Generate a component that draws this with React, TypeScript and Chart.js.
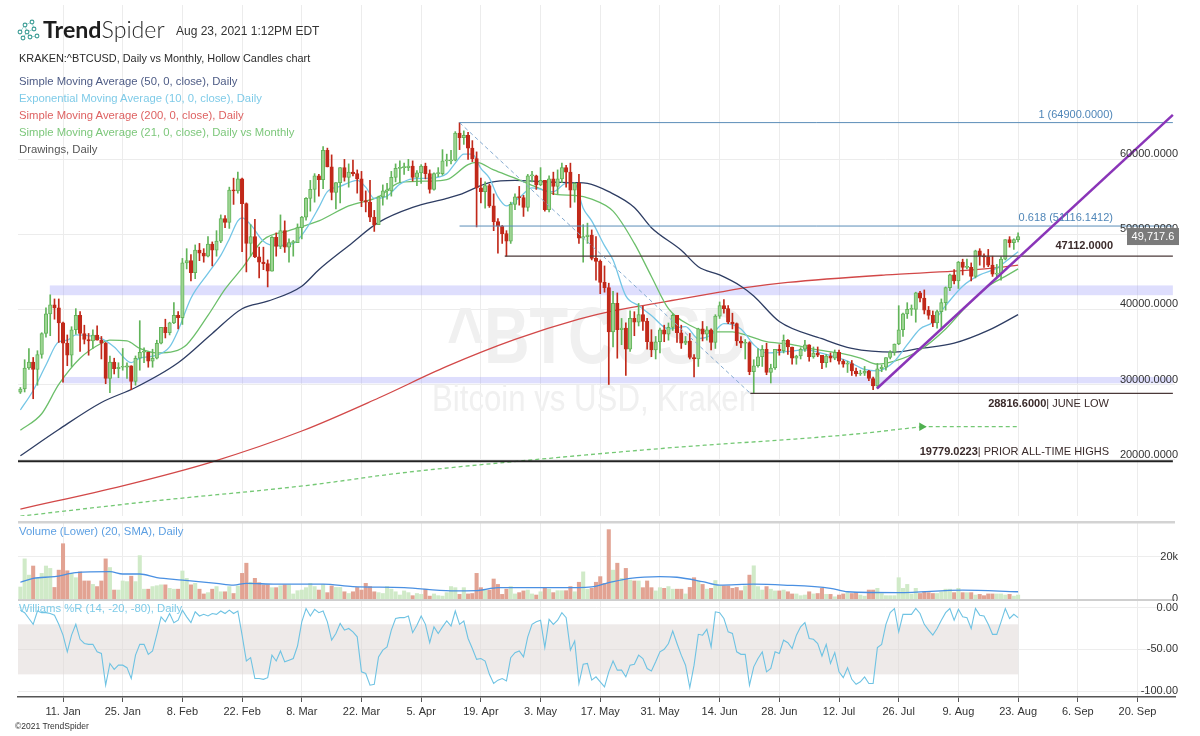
import React, { useEffect, useRef } from "react";
import { Chart, registerables } from "chart.js";

Chart.register(...registerables);

const FONT = '"Liberation Sans", Arial, Helvetica, sans-serif';

// x values are day numbers counted from 1 Jan 2021 (= day 0)
const X_MIN = -0.56;
const X_MAX = 270.8;
const tickDays = [10, 24, 38, 52, 66, 80, 94, 108, 122, 136, 150, 164, 178, 192, 206, 220, 234, 248, 262];
const tickLabels = ["11. Jan", "25. Jan", "8. Feb", "22. Feb", "8. Mar", "22. Mar", "5. Apr", "19. Apr", "3. May", "17. May", "31. May", "14. Jun", "28. Jun", "12. Jul", "26. Jul", "9. Aug", "23. Aug", "6. Sep", "20. Sep"];
const priceTicks = [20000, 30000, 40000, 50000, 60000];
const volumeTicks = [0, 20];
const volumeTickLabels = ["0", "20k"];
const wrTicks = [0, -50, -100];
const wrTickLabels = ["0.00", "-50.00", "-100.00"];

const firstOpen = 28990;
const closes = [
  29400, 32200, 33000, 32000, 34000, 36800, 39400, 40600, 40200, 38200,
  35500, 33900, 37300, 39200, 36800, 36000, 35800, 36600, 35900, 35500,
  30800, 33000, 32100, 32300, 32300, 32500, 30400, 33500, 34300, 34300,
  33100, 33500, 35500, 37600, 36900, 38200, 39200, 38900, 46200, 46500,
  44900, 47900, 47500, 47100, 48700, 47900, 49100, 52100, 51600, 55900,
  55800, 57400, 54100, 48800, 49700, 47000, 46300, 46100, 45100, 49600,
  48400, 50500, 48300, 48900, 48900, 50900, 52300, 54800, 56000, 57800,
  57300, 61200, 59000, 55600, 56900, 58900, 57600, 58300, 58100, 57400,
  54500, 54300, 52300, 51300, 55000, 55800, 55800, 57600, 58800, 58900,
  58900, 59100, 57600, 58200, 59100, 58100, 56000, 58100, 58100, 59800,
  59800, 59900, 63500, 62900, 63200, 61500, 60100, 56200, 55700, 56500,
  53800, 51700, 51100, 50100, 49100, 54000, 55000, 54900, 53600, 57800,
  57800, 56600, 57200, 53300, 57400, 56400, 57400, 58900, 58300, 55900,
  56800, 49500, 49700, 49900, 46800, 46400, 43600, 42900, 37000, 40800,
  37300, 37500, 34700, 38800, 38300, 39300, 38400, 35700, 34600, 35700,
  37300, 36700, 37600, 39200, 36900, 35500, 35800, 33600, 33400, 37400,
  36700, 37300, 35600, 39100, 40500, 40100, 38300, 38100, 35800, 35500,
  35600, 31700, 32500, 33700, 34700, 31600, 32200, 34700, 34500, 35900,
  35000, 33500, 33800, 34700, 35300, 33700, 34200, 33900, 32900, 33800,
  33500, 34300, 33100, 32700, 32800, 31800, 31400, 31500, 31800, 30800,
  29800, 32100, 32300, 33600, 34300, 35400, 37300, 39400, 40000, 40000,
  42200, 41500, 39900, 39200, 38200, 39700, 40900, 42900, 44600, 43800,
  46300, 45600, 45600, 44400, 47800, 47100, 47000, 45900, 44700, 44800,
  46700, 49300, 48900, 49300, 49717.6,
];
const highs = [
  29600, 33300, 34800, 33600, 34500, 36900, 40200, 41950, 41400, 41400,
  38300, 36600, 37700, 40100, 39700, 37900, 36800, 37300, 37800, 36400,
  35600, 33800, 33500, 32900, 34800, 32900, 32500, 33800, 38500, 34900,
  34300, 34700, 35900, 37600, 38700, 38300, 40900, 39700, 46800, 48100,
  47300, 48600, 48800, 48100, 49700, 49000, 50500, 52600, 52500, 56300,
  57500, 58300, 57500, 54200, 51300, 52000, 48300, 48300, 46600, 49700,
  50200, 52600, 51800, 49400, 49200, 51400, 52400, 54900, 57200, 58100,
  58000, 61700, 61500, 60600, 56900, 58900, 60000, 59400, 59900, 58600,
  58400, 55800, 57200, 53200, 55100, 56600, 56800, 58400, 59400, 59800,
  59500, 60000, 59800, 58500, 59300, 59500, 58600, 58200, 58900, 61300,
  60700, 61200, 63700, 64900, 63800, 63600, 62500, 61000, 57500, 57000,
  56700, 55400, 52100, 51200, 50500, 54300, 55400, 56400, 55200, 58000,
  58400, 57900, 58900, 57200, 57800, 58300, 58600, 59500, 59200, 59500,
  56900, 58000, 51300, 51500, 50600, 49700, 46600, 45800, 43500, 42400,
  42200, 38800, 38200, 39800, 39700, 40800, 40400, 38800, 37300, 36400,
  37500, 37900, 38200, 39400, 39200, 37900, 36400, 36800, 34000, 37500,
  38400, 37700, 37400, 39300, 41000, 41300, 40500, 39500, 38200, 36400,
  36000, 35700, 33300, 34800, 35200, 35500, 32700, 34700, 35300, 36600,
  36000, 35000, 33900, 34900, 35900, 35300, 35000, 35000, 33900, 34000,
  34200, 34600, 34600, 33300, 33100, 33200, 32200, 31900, 32400, 31900,
  31000, 32800, 32600, 33600, 34500, 35400, 40500, 39500, 40900, 40600,
  42300, 42400, 42600, 40400, 39800, 39900, 41400, 43000, 44700, 45300,
  46400, 46700, 46700, 46200, 47900, 48100, 47400, 48000, 47100, 46000,
  47000, 49300, 49700, 49400, 50200,
];
const lows = [
  28800, 29000, 32000, 28100, 29900, 33500, 36300, 36500, 38700, 35600,
  30300, 32500, 32400, 36700, 34400, 35400, 33900, 34800, 35900, 33400,
  30100, 28900, 31400, 30900, 31900, 30800, 29300, 29900, 31900, 32900,
  32300, 32300, 33400, 35400, 36200, 36600, 38100, 37400, 38000, 45400,
  43800, 44100, 46500, 46300, 47000, 45800, 47100, 48900, 50900, 50800,
  54000, 55500, 47700, 45000, 47100, 46900, 44200, 45300, 43000, 45100,
  47100, 48100, 47600, 46300, 47100, 48900, 49400, 51900, 53100, 54300,
  55100, 56100, 59000, 54600, 53400, 54200, 57100, 56300, 57800, 55500,
  53700, 53000, 51700, 50400, 51300, 53900, 54700, 55100, 57000, 56900,
  58000, 58500, 57100, 56500, 56800, 57400, 55500, 55900, 57700, 57900,
  59100, 59400, 59800, 61300, 62000, 60000, 59700, 51000, 54200, 53500,
  53600, 50500, 47500, 48800, 47100, 48800, 53300, 53900, 52400, 53100,
  57000, 56000, 56500, 53100, 53000, 55300, 55400, 56900, 56300, 53600,
  54300, 48800, 46300, 48800, 46600, 43900, 42100, 42300, 30000, 35000,
  33500, 35300, 31200, 34400, 36500, 37800, 37200, 34700, 33700, 33400,
  34200, 35700, 35900, 37200, 35600, 34800, 35300, 33400, 31000, 32400,
  35800, 35900, 34600, 34800, 38800, 39500, 38100, 37400, 35200, 34900,
  33400, 31300, 28817, 32300, 32400, 31300, 30200, 32000, 33900, 34200,
  34000, 32700, 32700, 33400, 34400, 33100, 33500, 33700, 32100, 32300,
  33000, 33300, 32700, 32300, 31600, 31200, 31100, 31200, 31200, 30500,
  29300, 29500, 31700, 31900, 33400, 33900, 35300, 36400, 38800, 39200,
  38300, 41000, 39400, 38700, 37700, 37500, 37300, 39900, 42500, 43400,
  42800, 44600, 45400, 43800, 44200, 45900, 45600, 45700, 44400, 44200,
  43900, 46600, 48300, 48000, 49000,
];
// volume in thousands
const volumesK = [
  6, 19, 11.5, 15.7, 10, 12.3, 15.7, 14.6, 5.8, 13.8,
  26, 13.5, 12.3, 10.3, 13, 8.8, 8.8, 7.2, 6.2, 8.8,
  19, 15, 4.6, 4.6, 8.8, 8.5, 11, 8.5, 20.5, 5,
  5, 6.2, 6.6, 7, 7, 5.4, 5, 5, 13.4, 10,
  7, 7.7, 5, 2.8, 3.4, 5, 6.2, 3.8, 3.8, 6.2,
  3, 6.5, 12.3, 17, 8.2, 10, 8, 7, 7, 5.7,
  5.7, 6.6, 7, 7, 2.8, 4.3, 4.6, 5.7, 7.7, 6.2,
  4.6, 7.2, 3.4, 6.5, 5.8, 5.8, 3.8, 3, 3.8, 5.8,
  4.6, 7.7, 6.2, 3.8, 3.4, 3, 6.2, 5, 3.8, 2.3,
  4.2, 3.4, 2, 3, 2.6, 5, 1.8, 2.8, 2, 1.8,
  3.4, 6.2, 5.7, 2.6, 5.7, 2.8, 3, 12.3, 5.7, 4.6,
  4.6, 9.7, 7.2, 2.6, 5, 6.2, 2.8, 3.4, 4.2, 4.6,
  2.8, 2.3, 3.8, 5.8, 5, 3.4, 4.3, 4.3, 4.3, 6.2,
  3.8, 8.2, 13, 5, 5.4, 8.2, 10.8, 7.7, 32.5, 13.8,
  17, 10, 14.6, 9.2, 8.8, 8.8, 5.7, 8.8, 5.7, 4.2,
  5.7, 5.4, 6.2, 5, 5, 5, 2.8, 5.8, 10.3, 8.8,
  7.2, 5, 5.4, 9, 6.5, 6.5, 6.5, 5.4, 5.8, 4.3,
  6.5, 11.5, 15.8, 6.2, 4.6, 6.2, 5, 4.2, 4.2, 4.6,
  3.8, 2.8, 2.8, 2, 2.3, 3.8, 2.8, 3, 5.4, 2.6,
  2.6, 1.5, 2.3, 2.8, 3.4, 3, 3.4, 2.3, 1.8, 4.6,
  4.6, 5.4, 3, 2, 2, 2, 10.3, 5.4, 7.2, 2.8,
  5.4, 3, 3.8, 3.4, 3, 3, 3.8, 5, 5, 3.4,
  5.4, 3.4, 3.4, 3.4, 2.3, 2.6, 2, 2.8, 2.8, 2.8,
  2.8, 2.3, 2.6, 1.8, 2.3,
];
const williamsR = [
  -3, -6, -13, -20, -4, -6, -6, -7, -9, -20,
  -33, -53, -33, -20, -38, -43, -44, -44, -53, -55,
  -93, -67, -74, -69, -69, -72, -85, -57, -44, -44,
  -56, -52, -32, -11, -17, -7, -18, -15, -3, -11,
  -18, -5, -10, -8, -10, -7, -8, -4, -7, -3,
  -7, -4, -33, -64, -60, -85, -85, -86, -84, -57,
  -64, -52, -65, -63, -61, -46, -17, -1, -10, -2,
  -6, -4, -17, -39, -31, -19, -27, -25, -29, -35,
  -77, -79, -93, -92, -59, -51, -47, -27, -13, -12,
  -12, -10, -30, -21, -10, -20, -42, -23, -31, -23,
  -16, -22, -4, -20, -16, -37, -49, -62, -61, -64,
  -80, -91, -87, -85, -88, -60, -54, -52, -59, -35,
  -20, -17, -15, -48, -14, -20, -15, -6, -12, -51,
  -40, -91, -68, -67, -87, -83, -89, -95, -77, -64,
  -75, -75, -83, -69, -68, -57, -61, -73, -76, -65,
  -53, -50, -43, -28, -43, -57, -69, -96, -69, -32,
  -33, -26, -47, -5, -6, -13, -29, -31, -53, -56,
  -56, -93, -71, -61, -53, -77, -73, -53, -55, -39,
  -42, -49, -33, -23, -18, -37, -38, -43, -58, -44,
  -67, -54, -77, -84, -72, -86, -92, -89, -83, -91,
  -91, -48, -44, -20, -6, -1, -29, -8, -8, -8,
  -1, -7, -20, -27, -33, -25, -15, -6, -1, -15,
  -2, -11, -12, -25, -1, -9, -10, -20, -32, -32,
  -17, -1, -13, -8, -12,
];

// moving averages: [day, value]
const sma50 = [[0, 20500], [9, 24000], [19, 27600], [27, 29600], [37, 32900], [45, 36800], [52, 40100], [58, 41100], [66, 43100], [70, 45300], [77, 48500], [84, 51600], [92, 53600], [100, 54800], [103, 55300], [110, 56900], [116, 57200], [123, 57000], [130, 56900], [133, 56800], [138, 55700], [144, 53600], [148, 50900], [155, 47900], [159, 45700], [164, 44600], [169, 43100], [172, 41800], [178, 38400], [188, 36100], [195, 34800], [205, 34300], [211, 34800], [219, 35500], [227, 37200], [234, 39300]];
const sma200 = [[0, 13400], [24, 16500], [45, 19700], [66, 23800], [84, 28200], [100, 32400], [116, 36000], [131, 38700], [139, 39800], [155, 41400], [164, 42300], [170, 42900], [180, 43600], [203, 44600], [219, 45100], [228, 45500], [234, 45900]];
const sma21 = [[0, 23900], [5, 26100], [9, 30000], [14, 33500], [19, 35500], [21, 35900], [25, 35800], [28, 34800], [32, 34200], [36, 34400], [39, 35300], [44, 39200], [48, 42700], [52, 45500], [57, 49300], [63, 50500], [70, 51800], [77, 53800], [84, 55000], [89, 56900], [96, 57100], [100, 57300], [105, 59300], [107, 59600], [111, 58600], [116, 57500], [121, 56300], [126, 55300], [130, 55200], [134, 54700], [139, 53100], [144, 48800], [148, 44400], [152, 40100], [157, 37900], [162, 37000], [167, 37000], [170, 36600], [175, 35700], [180, 35400], [187, 34600], [192, 34200], [197, 33500], [201, 32700], [205, 33100], [211, 34600], [217, 37400], [222, 40500], [227, 43100], [231, 44400], [234, 45400]];
const ema10 = [[0, 26600], [3, 29200], [6, 32600], [9, 35700], [11, 35900], [13, 36600], [19, 36100], [22, 35000], [26, 32900], [28, 33500], [32, 33900], [35, 35000], [37, 37200], [40, 41500], [44, 44800], [47, 47200], [49, 49400], [51, 51800], [52, 52200], [54, 51300], [57, 49100], [60, 48500], [64, 48800], [67, 50700], [70, 53600], [72, 55700], [75, 56400], [79, 57200], [81, 56300], [83, 54800], [86, 55100], [89, 56700], [92, 57400], [96, 57500], [100, 58100], [102, 59500], [104, 60700], [106, 60700], [108, 58800], [110, 57500], [112, 55000], [114, 53800], [117, 54900], [120, 56200], [125, 55700], [128, 56800], [130, 56800], [132, 53500], [134, 51800], [137, 48500], [139, 46600], [142, 41800], [145, 40500], [148, 39200], [152, 37400], [156, 37700], [159, 36100], [162, 36600], [165, 38100], [169, 37400], [172, 35300], [175, 34200], [180, 34400], [184, 34600], [189, 34000], [194, 33100], [198, 32000], [201, 31800], [205, 33100], [208, 35300], [211, 37400], [214, 38300], [217, 40500], [221, 43100], [225, 44600], [229, 45500], [232, 46800], [234, 47700]];
const monthlySma21 = [[0, 12450], [31, 14450], [67, 16530], [89, 18190], [120, 19950], [151, 21500], [194.5, 23320], [211.4, 24370]];
const monthlySma21Current = [[211.4, 24370], [234, 24370]];
const volumeSma20 = [[0, 8.2], [3, 10], [8, 10.8], [13, 12.6], [21, 13.1], [24, 12], [28, 12], [32, 10.3], [38, 9.2], [46, 7.7], [50, 6.9], [53, 7.7], [60, 7.3], [71, 7.3], [78, 6.2], [90, 5.7], [101, 4.2], [107, 4.3], [112, 5.7], [120, 5.7], [126, 5.7], [134, 6.1], [138, 8], [143, 10], [150, 10.8], [154, 10.5], [160, 8.5], [164, 6.9], [172, 7.3], [179, 6.9], [190, 5.4], [194, 3.8], [206, 3.4], [221, 4.6], [234, 3.8]];

// drawings
const fibHighDay = 103;
const fibHigh = 64900;
const fib618 = 51116.1412;
const juneLowDay = 171.2;
const juneLow = 28816.6;
const level47112Day = 113.6;
const level47112 = 47112;
const priorAth = 19779.0223;
const drawEndDay = 270.3;
const trendLine = [[200.9, 29465], [270.3, 65935]];
const supplyBands = [[41900, 43200, 6.9], [30150, 31000, 9.8]]; // [low, high, start day]

const days = closes.map((_, i) => i);
const opens = [firstOpen, ...closes.slice(0, -1)];
const isUp = closes.map((c, i) => c >= opens[i]);

const pts = (arr: number[][]) => arr.map(([x, y]) => ({ x, y }));

function drawFitted(ctx: any, text: string, font: string, cx: number, cy: number, w: number) {
  ctx.font = font;
  const m = ctx.measureText(text).width;
  ctx.save();
  ctx.translate(cx, cy);
  ctx.scale(w / m, 1);
  ctx.fillText(text, 0, 0);
  ctx.restore();
}

const xScaleHidden = (grid: boolean) => ({
  type: "linear",
  min: X_MIN,
  max: X_MAX,
  offset: false,
  grid: { display: grid, color: "#ececec", drawTicks: false, offset: false },
  border: { display: false },
  ticks: { display: false },
  afterBuildTicks: (s: any) => { s.ticks = tickDays.map((v) => ({ value: v })); },
  afterFit: (s: any) => { s.height = 0; },
});

const mainDecor = {
  id: "mainDecor",
  beforeDatasetsDraw(chart: any) {
    const { ctx, scales } = chart;
    const xs = scales.x, ys = scales.y;
    ctx.save();
    ctx.fillStyle = "#f0f0f0";
    ctx.textAlign = "center";
    ctx.textBaseline = "middle";
    drawFitted(ctx, "^BTCUSD", `bold 80px ${FONT}`, 597, 341, 300);
    drawFitted(ctx, "Bitcoin vs USD, Kraken", `36px ${FONT}`, 594, 401, 324);
    ctx.fillStyle = "rgba(160,160,250,0.35)";
    supplyBands.forEach(([lo, hi, d]) => {
      const x0 = xs.getPixelForValue(d);
      const x1 = xs.getPixelForValue(drawEndDay);
      const y0 = ys.getPixelForValue(hi);
      const y1 = ys.getPixelForValue(lo);
      ctx.fillRect(x0, y0, x1 - x0, y1 - y0);
    });
    ctx.restore();
  },
  afterDatasetsDraw(chart: any) {
    const { ctx, chartArea: a, scales } = chart;
    const ys = scales.y;
    ctx.save();
    ctx.textBaseline = "middle";
    ctx.textAlign = "right";
    ctx.font = `11px ${FONT}`;
    ctx.fillStyle = "#333";
    priceTicks.forEach((v) => {
      ctx.fillText(v.toFixed(4), a.right + 3, ys.getPixelForValue(v) - 5);
    });
    const lx = a.right - 62;
    ctx.fillStyle = "#4f86b8";
    ctx.fillText(`1 (${fibHigh.toFixed(4)})`, lx, ys.getPixelForValue(fibHigh) - 8);
    ctx.fillText(`0.618 (${fib618.toFixed(4)})`, lx, ys.getPixelForValue(fib618) - 8);
    ctx.fillStyle = "#3a2a2a";
    ctx.font = `bold 11px ${FONT}`;
    ctx.fillText(level47112.toFixed(4), lx, ys.getPixelForValue(level47112) - 10);
    const twoPart = (bold: string, rest: string, y: number) => {
      const rx = a.right - 66;
      ctx.font = `11px ${FONT}`;
      ctx.fillStyle = "#3a2a2a";
      const w = ctx.measureText(rest).width;
      ctx.fillText(rest, rx, y);
      ctx.font = `bold 11px ${FONT}`;
      ctx.fillText(bold, rx - w, y);
    };
    twoPart(juneLow.toFixed(4), "| JUNE LOW", ys.getPixelForValue(juneLow) + 11);
    twoPart(priorAth.toFixed(4), "| PRIOR ALL-TIME HIGHS", ys.getPixelForValue(priorAth) - 9);
    const last = closes[closes.length - 1];
    const py = ys.getPixelForValue(last);
    ctx.fillStyle = "#7b7b7b";
    ctx.fillRect(a.right - 48, py - 8.5, 52, 17);
    ctx.fillStyle = "#ffffff";
    ctx.font = `11px ${FONT}`;
    ctx.textAlign = "center";
    ctx.fillText(last.toLocaleString("en-US", { minimumFractionDigits: 1, maximumFractionDigits: 1 }), a.right - 22, py + 0.5);
    ctx.restore();
  },
};

const volDecor = {
  id: "volDecor",
  afterDatasetsDraw(chart: any) {
    const { ctx, chartArea: a, scales } = chart;
    ctx.save();
    ctx.fillStyle = "#d3d3d3";
    ctx.fillRect(a.left, 0, a.width, 2.5);
    ctx.font = `11px ${FONT}`;
    ctx.fillStyle = "#333";
    ctx.textAlign = "right";
    ctx.textBaseline = "middle";
    volumeTicks.forEach((v, i) => ctx.fillText(volumeTickLabels[i], a.right + 3, scales.y.getPixelForValue(v) + (v === 0 ? -1 : 0)));
    ctx.restore();
  },
};

const wrDecor = {
  id: "wrDecor",
  beforeDatasetsDraw(chart: any) {
    const { ctx, chartArea: a, scales } = chart;
    ctx.save();
    ctx.fillStyle = "rgba(222,214,212,0.5)";
    const x1 = scales.x.getPixelForValue(days[days.length - 1]);
    const y0 = scales.y.getPixelForValue(-20);
    const y1 = scales.y.getPixelForValue(-80);
    ctx.fillRect(a.left, y0, x1 - a.left, y1 - y0);
    ctx.restore();
  },
  afterDatasetsDraw(chart: any) {
    const { ctx, chartArea: a, scales } = chart;
    ctx.save();
    ctx.font = `11px ${FONT}`;
    ctx.fillStyle = "#333";
    ctx.textAlign = "right";
    ctx.textBaseline = "middle";
    wrTicks.forEach((v, i) => ctx.fillText(wrTickLabels[i], a.right + 3, scales.y.getPixelForValue(v)));
    ctx.restore();
  },
};

function mainConfig(): any {
  const line = (data: number[][], color: string, width = 1.3, order = 5) => ({
    type: "line",
    data: pts(data),
    borderColor: color,
    borderWidth: width,
    pointRadius: 0,
    cubicInterpolationMode: "monotone",
    order,
  });
  const seg = (data: number[][], color: string, width: number, dash: number[] = []) => ({
    type: "line",
    data: pts(data),
    borderColor: color,
    borderWidth: width,
    borderDash: dash,
    pointRadius: 0,
    order: 1,
  });
  return {
    type: "line",
    data: {
      datasets: [
        seg(trendLine, "#8a35b8", 2.5),
        seg([[fibHighDay, fibHigh], [drawEndDay, fibHigh]], "#5b8db8", 1),
        seg([[fibHighDay, fib618], [drawEndDay, fib618]], "#5b8db8", 1),
        seg([[fibHighDay, fibHigh], [juneLowDay, juneLow]], "#86abd0", 1, [4, 3]),
        seg([[level47112Day, level47112], [drawEndDay, level47112]], "#4a3838", 1.2),
        seg([[juneLowDay, juneLow], [drawEndDay, juneLow]], "#4a3838", 1.2),
        seg([[X_MIN, priorAth], [drawEndDay, priorAth]], "#222222", 2),
        {
          type: "bar",
          data: days.map((i) => ({ x: i, y: [opens[i], closes[i]] })),
          backgroundColor: isUp.map((u) => (u ? "rgba(160,214,150,0.95)" : "#c1291a")),
          borderColor: isUp.map((u) => (u ? "#62b45a" : "#c1291a")),
          borderWidth: 1,
          borderSkipped: false,
          barThickness: 3.5,
          minBarLength: 1,
          grouped: false,
          order: 2,
        },
        {
          type: "bar",
          data: days.map((i) => ({ x: i, y: [lows[i], highs[i]] })),
          backgroundColor: isUp.map((u) => (u ? "#62b45a" : "#c1291a")),
          borderWidth: 0,
          barThickness: 1,
          grouped: false,
          order: 3,
        },
        line(ema10, "#74c6e6", 1.3, 4),
        line(sma21, "#6cbf6a", 1.3, 5),
        line(sma50, "#2e3d63", 1.3, 6),
        line(sma200, "#d24848", 1.3, 7),
        {
          type: "line",
          data: pts(monthlySma21),
          borderColor: "#74c874",
          backgroundColor: "#4fb04f",
          borderWidth: 1.3,
          borderDash: [4, 3],
          pointRadius: monthlySma21.map((_, i) => (i === monthlySma21.length - 1 ? 5 : 0)),
          pointStyle: "triangle",
          rotation: 90,
          pointBorderWidth: 0,
          cubicInterpolationMode: "monotone",
          order: 8,
        },
        {
          type: "line",
          data: pts(monthlySma21Current),
          borderColor: "#74c874",
          borderWidth: 1.3,
          borderDash: [4, 3],
          pointRadius: 0,
          order: 8,
        },
      ],
    },
    options: {
      responsive: false,
      animation: false,
      devicePixelRatio: 1,
      layout: { padding: { left: 18, right: 25, top: 0, bottom: 0 } },
      plugins: { legend: { display: false }, tooltip: { enabled: false } },
      scales: {
        x: xScaleHidden(true),
        y: {
          type: "linear",
          position: "right",
          min: 12471,
          max: 80576,
          grid: { color: "#ececec", drawTicks: false },
          border: { display: false },
          ticks: { display: false },
          afterBuildTicks: (s: any) => { s.ticks = priceTicks.map((v) => ({ value: v })); },
          afterFit: (s: any) => { s.width = 0; },
        },
      },
    },
    plugins: [mainDecor],
  };
}

function volConfig(): any {
  return {
    type: "line",
    data: {
      datasets: [
        {
          type: "line",
          data: pts(volumeSma20),
          borderColor: "#4a90e2",
          borderWidth: 1.3,
          pointRadius: 0,
          cubicInterpolationMode: "monotone",
          order: 1,
        },
        {
          type: "bar",
          data: days.map((i) => ({ x: i, y: volumesK[i] })),
          backgroundColor: isUp.map((u) => (u ? "#d0eac8" : "#e2a393")),
          barThickness: 3.4,
          grouped: false,
          order: 2,
        },
      ],
    },
    options: {
      responsive: false,
      animation: false,
      devicePixelRatio: 1,
      layout: { padding: { left: 18, right: 25, top: 0, bottom: 0 } },
      plugins: { legend: { display: false }, tooltip: { enabled: false } },
      scales: {
        x: xScaleHidden(true),
        y: {
          type: "linear",
          position: "right",
          min: -0.462,
          max: 36.49,
          grid: {
            color: (c: any) => (c.tick && c.tick.value === 0 ? "#cfcfcf" : "#ededed"),
            lineWidth: (c: any) => (c.tick && c.tick.value === 0 ? 2.5 : 1),
            drawTicks: false,
          },
          border: { display: false },
          ticks: { display: false },
          afterBuildTicks: (s: any) => { s.ticks = volumeTicks.map((v) => ({ value: v })); },
          afterFit: (s: any) => { s.width = 0; },
        },
      },
    },
    plugins: [volDecor],
  };
}

function wrConfig(): any {
  return {
    type: "line",
    data: {
      datasets: [
        {
          type: "line",
          data: days.map((i) => ({ x: i, y: williamsR[i] })),
          borderColor: "#6fc3e3",
          borderWidth: 1.1,
          pointRadius: 0,
        },
      ],
    },
    options: {
      responsive: false,
      animation: false,
      devicePixelRatio: 1,
      layout: { padding: { left: 18, right: 25, top: 0, bottom: 0 } },
      plugins: { legend: { display: false }, tooltip: { enabled: false } },
      scales: {
        x: {
          type: "linear",
          min: X_MIN,
          max: X_MAX,
          offset: false,
          grid: { color: "#ececec", tickColor: "#555", tickLength: 5, drawTicks: true, offset: false },
          border: { display: true, color: "#555", width: 1.5 },
          ticks: {
            autoSkip: false,
            maxRotation: 0,
            padding: 3,
            color: "#333",
            font: { family: FONT, size: 11 },
            callback: (_v: any, i: number) => tickLabels[i],
          },
          afterBuildTicks: (s: any) => { s.ticks = tickDays.map((v) => ({ value: v })); },
          afterFit: (s: any) => { s.height = 39; },
        },
        y: {
          type: "linear",
          position: "right",
          min: -107.2,
          max: 8,
          grid: { color: "#ededed", drawTicks: false },
          border: { display: false },
          ticks: { display: false },
          afterBuildTicks: (s: any) => { s.ticks = wrTicks.map((v) => ({ value: v })); },
          afterFit: (s: any) => { s.width = 0; },
        },
      },
    },
    plugins: [wrDecor],
  };
}

const legendRows = [
  { text: "KRAKEN:^BTCUSD, Daily vs Monthly, Hollow Candles chart", color: "#2b2b2b", y: 58, size: 10.9 },
  { text: "Simple Moving Average (50, 0, close), Daily", color: "#4d5b85", y: 81, size: 11.3 },
  { text: "Exponential Moving Average (10, 0, close), Daily", color: "#7fcbe8", y: 98, size: 11.3 },
  { text: "Simple Moving Average (200, 0, close), Daily", color: "#de6262", y: 115, size: 11.3 },
  { text: "Simple Moving Average (21, 0, close), Daily vs Monthly", color: "#7cc77a", y: 132, size: 11.3 },
  { text: "Drawings, Daily", color: "#555555", y: 149, size: 11.3 },
];

function Logo() {
  const nodes = [[4, 13], [9, 6], [16, 3], [11, 13], [18, 10], [7, 19], [14, 18], [21, 17]];
  const links = [[0, 1], [1, 2], [1, 3], [3, 4], [3, 5], [3, 6], [6, 7], [4, 2]];
  return (
    <svg width={26} height={24} style={{ position: "absolute", left: 16, top: 19 }}>
      {links.map(([a, b], i) => (
        <line key={"l" + i} x1={nodes[a][0]} y1={nodes[a][1]} x2={nodes[b][0]} y2={nodes[b][1]} stroke="#8cc9c4" strokeWidth={0.8} />
      ))}
      {nodes.map(([x, y], i) => (
        <circle key={"c" + i} cx={x} cy={y} r={1.9} fill="#fff" stroke="#3d9d96" strokeWidth={1.1} />
      ))}
    </svg>
  );
}

export default function App() {
  const mainRef = useRef<HTMLCanvasElement>(null);
  const volRef = useRef<HTMLCanvasElement>(null);
  const wrRef = useRef<HTMLCanvasElement>(null);

  useEffect(() => {
    const charts = [
      new Chart(mainRef.current as HTMLCanvasElement, mainConfig()),
      new Chart(volRef.current as HTMLCanvasElement, volConfig()),
      new Chart(wrRef.current as HTMLCanvasElement, wrConfig()),
    ];
    return () => charts.forEach((c) => c.destroy());
  }, []);

  const txt = (extra: any) => ({ position: "absolute", whiteSpace: "nowrap", fontFamily: FONT, ...extra });

  return (
    <div style={{ position: "absolute", left: 0, top: 0, width: 1200, height: 736, background: "#fff", overflow: "hidden" }}>
      <canvas ref={mainRef} width={1200} height={521} style={{ position: "absolute", left: 0, top: 0, width: 1200, height: 521 }} />
      <canvas ref={volRef} width={1200} height={80} style={{ position: "absolute", left: 0, top: 521, width: 1200, height: 80 }} />
      <canvas ref={wrRef} width={1200} height={135} style={{ position: "absolute", left: 0, top: 601, width: 1200, height: 135 }} />
      <Logo />
      <div style={txt({ left: 43, top: 18, fontFamily: 'Lato, "Liberation Sans", sans-serif', fontSize: 23.2, lineHeight: "23px", color: "#1d1d1d" })}>
        <span style={{ fontWeight: 700 }}>Trend</span>
        <span style={{ fontWeight: 300, color: "#2a2a2a" }}>Spider</span>
      </div>
      <div style={txt({ left: 176, top: 24, fontSize: 12, lineHeight: "14px", color: "#333" })}>Aug 23, 2021 1:12PM EDT</div>
      {legendRows.map((r) => (
        <div key={r.text} style={txt({ left: 19, top: r.y - 7, fontSize: r.size, lineHeight: "14px", color: r.color })}>{r.text}</div>
      ))}
      <div style={txt({ left: 19, top: 524, fontSize: 11.3, lineHeight: "14px", color: "#5c9fe2" })}>Volume (Lower) (20, SMA), Daily</div>
      <div style={txt({ left: 19, top: 601, fontSize: 11.3, lineHeight: "14px", color: "#7ecbe8" })}>Williams %R (14, -20, -80), Daily</div>
      <div style={txt({ left: 15, top: 721, fontSize: 8.5, lineHeight: "11px", color: "#333" })}>©2021 TrendSpider</div>
    </div>
  );
}
